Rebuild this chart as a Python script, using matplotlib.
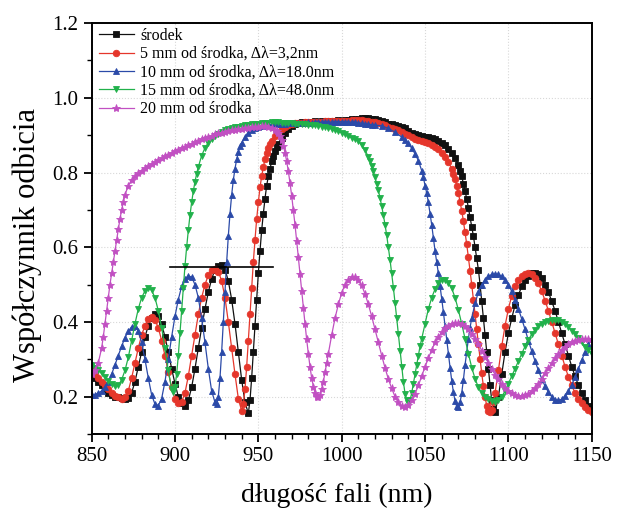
import numpy as np
import matplotlib
matplotlib.use("Agg")
import matplotlib.pyplot as plt
from matplotlib.ticker import MultipleLocator

# reflectance spectra, (wavelength nm, R)
srodek = [
    (850, 0.26), (852, 0.25), (854, 0.24), (856, 0.23), (858, 0.22), (860, 0.21), (862, 0.205),
    (864, 0.20), (866, 0.198), (868, 0.196), (870, 0.195), (872, 0.197), (874, 0.21), (876, 0.24),
    (878, 0.28), (880, 0.32), (882, 0.36), (884, 0.39), (886, 0.41), (888, 0.42), (890, 0.415),
    (892, 0.395), (894, 0.36), (896, 0.32), (898, 0.275), (900, 0.235), (902, 0.20), (904, 0.182),
    (906, 0.176), (908, 0.19), (910, 0.225), (912, 0.275), (914, 0.33), (916, 0.385), (918, 0.435),
    (920, 0.48), (922, 0.515), (924, 0.54), (926, 0.55), (928, 0.552), (930, 0.54), (932, 0.51),
    (934, 0.46), (936, 0.395), (938, 0.32), (940, 0.245), (942, 0.185), (944, 0.155), (945, 0.19),
    (946, 0.25), (947, 0.32), (948, 0.39), (949, 0.46), (950, 0.53), (951, 0.59), (952, 0.645),
    (953, 0.69), (954, 0.73), (955, 0.765), (956, 0.79), (957, 0.81), (958, 0.83), (959, 0.845),
    (960, 0.858), (961, 0.868), (962, 0.877), (964, 0.893), (966, 0.906), (968, 0.916), (970, 0.924),
    (972, 0.929), (974, 0.932), (976, 0.934), (978, 0.935), (980, 0.935), (982, 0.936), (984, 0.937),
    (986, 0.936), (988, 0.937), (990, 0.938), (992, 0.937), (994, 0.938), (996, 0.939), (998, 0.94),
    (1000, 0.939), (1002, 0.94), (1004, 0.941), (1006, 0.942), (1008, 0.943), (1010, 0.944),
    (1012, 0.945), (1014, 0.946), (1016, 0.945), (1018, 0.944), (1020, 0.942), (1022, 0.94),
    (1024, 0.937), (1026, 0.934), (1028, 0.931), (1030, 0.929), (1032, 0.926), (1034, 0.924),
    (1036, 0.922), (1038, 0.918), (1040, 0.912), (1042, 0.906), (1044, 0.902), (1046, 0.90),
    (1048, 0.898), (1050, 0.896), (1052, 0.894), (1054, 0.892), (1056, 0.889), (1058, 0.885),
    (1060, 0.88), (1062, 0.873), (1064, 0.864), (1066, 0.853), (1068, 0.84), (1070, 0.82),
    (1071, 0.805), (1072, 0.79), (1073, 0.77), (1074, 0.75), (1075, 0.73), (1076, 0.705),
    (1077, 0.68), (1078, 0.655), (1079, 0.63), (1080, 0.60), (1081, 0.57), (1082, 0.54),
    (1083, 0.50), (1084, 0.455), (1085, 0.41), (1086, 0.365), (1087, 0.32), (1088, 0.275),
    (1089, 0.23), (1090, 0.19), (1091, 0.168), (1092, 0.158), (1094, 0.20), (1096, 0.26),
    (1098, 0.32), (1100, 0.37), (1102, 0.41), (1104, 0.445), (1106, 0.472), (1108, 0.495),
    (1110, 0.512), (1112, 0.523), (1114, 0.53), (1116, 0.532), (1118, 0.528), (1120, 0.518),
    (1122, 0.50), (1124, 0.48), (1126, 0.455), (1128, 0.43), (1130, 0.40), (1132, 0.37),
    (1134, 0.34), (1136, 0.31), (1138, 0.28), (1140, 0.255), (1142, 0.23), (1144, 0.21),
    (1146, 0.19), (1148, 0.175), (1150, 0.165),
]

mm5 = [
    (850, 0.27), (852, 0.26), (854, 0.25), (856, 0.24), (858, 0.23), (860, 0.22), (862, 0.21),
    (864, 0.203), (866, 0.198), (868, 0.195), (870, 0.198), (872, 0.215), (874, 0.25), (876, 0.29),
    (878, 0.33), (880, 0.365), (882, 0.39), (884, 0.408), (886, 0.412), (888, 0.405), (890, 0.385),
    (892, 0.35), (894, 0.31), (896, 0.265), (898, 0.225), (900, 0.195), (902, 0.182), (904, 0.186),
    (906, 0.21), (908, 0.255), (910, 0.31), (912, 0.365), (914, 0.42), (916, 0.465), (918, 0.50),
    (920, 0.525), (922, 0.54), (924, 0.543), (926, 0.535), (928, 0.51), (930, 0.465), (932, 0.40),
    (934, 0.33), (936, 0.26), (938, 0.195), (940, 0.162), (941, 0.18), (942, 0.22), (943, 0.28),
    (944, 0.35), (945, 0.42), (946, 0.49), (947, 0.56), (948, 0.62), (949, 0.675), (950, 0.72),
    (951, 0.76), (952, 0.79), (953, 0.815), (954, 0.835), (955, 0.852), (956, 0.865), (957, 0.876),
    (958, 0.885), (960, 0.899), (962, 0.909), (964, 0.917), (966, 0.923), (968, 0.927), (970, 0.93),
    (972, 0.932), (974, 0.933), (976, 0.933), (978, 0.934), (980, 0.934), (982, 0.935), (984, 0.935),
    (986, 0.936), (988, 0.936), (990, 0.937), (992, 0.937), (994, 0.937), (996, 0.938), (998, 0.938),
    (1000, 0.938), (1002, 0.939), (1004, 0.939), (1006, 0.94), (1008, 0.94), (1010, 0.94),
    (1012, 0.94), (1014, 0.939), (1016, 0.938), (1018, 0.936), (1020, 0.934), (1022, 0.932),
    (1024, 0.929), (1026, 0.926), (1028, 0.923), (1030, 0.92), (1032, 0.917), (1034, 0.913),
    (1036, 0.909), (1038, 0.904), (1040, 0.90), (1042, 0.895), (1044, 0.891), (1046, 0.888),
    (1048, 0.885), (1050, 0.882), (1052, 0.878), (1054, 0.874), (1056, 0.869), (1058, 0.862),
    (1060, 0.853), (1062, 0.842), (1064, 0.828), (1066, 0.81), (1067, 0.797), (1068, 0.782),
    (1069, 0.765), (1070, 0.745), (1071, 0.722), (1072, 0.698), (1073, 0.67), (1074, 0.64),
    (1075, 0.608), (1076, 0.573), (1077, 0.537), (1078, 0.50), (1079, 0.46), (1080, 0.42),
    (1081, 0.38), (1082, 0.34), (1083, 0.30), (1084, 0.262), (1085, 0.228), (1086, 0.198),
    (1087, 0.176), (1088, 0.162), (1089, 0.158), (1090, 0.165), (1091, 0.185), (1092, 0.21),
    (1094, 0.27), (1096, 0.335), (1098, 0.39), (1100, 0.435), (1102, 0.47), (1104, 0.495),
    (1106, 0.512), (1108, 0.523), (1110, 0.529), (1112, 0.53), (1114, 0.527), (1116, 0.518),
    (1118, 0.503), (1120, 0.482), (1122, 0.457), (1124, 0.43), (1126, 0.40), (1128, 0.37),
    (1130, 0.34), (1132, 0.31), (1134, 0.28), (1136, 0.253), (1138, 0.23), (1140, 0.21),
    (1142, 0.195), (1144, 0.182), (1146, 0.172), (1148, 0.165), (1150, 0.16),
]

mm10 = [
    (850, 0.205), (852, 0.205), (854, 0.21), (856, 0.215), (858, 0.225), (860, 0.24), (862, 0.26),
    (864, 0.285), (866, 0.31), (868, 0.335), (870, 0.358), (872, 0.375), (874, 0.387), (876, 0.39),
    (878, 0.375), (880, 0.345), (882, 0.30), (884, 0.25), (886, 0.205), (888, 0.18), (890, 0.176),
    (892, 0.195), (894, 0.24), (896, 0.30), (898, 0.36), (900, 0.415), (902, 0.46), (904, 0.495),
    (906, 0.515), (908, 0.523), (910, 0.52), (912, 0.50), (914, 0.465), (916, 0.41), (918, 0.345),
    (920, 0.275), (922, 0.215), (924, 0.185), (925, 0.18), (926, 0.20), (927, 0.25), (928, 0.32),
    (929, 0.40), (930, 0.48), (931, 0.56), (932, 0.63), (933, 0.69), (934, 0.74), (935, 0.78),
    (936, 0.81), (937, 0.835), (938, 0.855), (939, 0.87), (940, 0.88), (942, 0.895), (944, 0.906),
    (946, 0.913), (948, 0.918), (950, 0.922), (952, 0.925), (954, 0.927), (956, 0.928), (958, 0.929),
    (960, 0.93), (962, 0.93), (964, 0.931), (966, 0.931), (968, 0.932), (970, 0.932), (972, 0.933),
    (974, 0.932), (976, 0.933), (978, 0.933), (980, 0.934), (982, 0.933), (984, 0.934), (986, 0.934),
    (988, 0.935), (990, 0.935), (992, 0.935), (994, 0.935), (996, 0.936), (998, 0.936), (1000, 0.936),
    (1002, 0.936), (1004, 0.935), (1006, 0.935), (1008, 0.934), (1010, 0.933), (1012, 0.932),
    (1014, 0.93), (1016, 0.929), (1018, 0.928), (1020, 0.927), (1024, 0.925), (1028, 0.918),
    (1032, 0.908), (1036, 0.895), (1038, 0.888), (1040, 0.878), (1042, 0.865), (1044, 0.85),
    (1046, 0.832), (1048, 0.805), (1049, 0.787), (1050, 0.765), (1051, 0.745), (1052, 0.72),
    (1053, 0.69), (1054, 0.66), (1055, 0.625), (1056, 0.59), (1057, 0.56), (1058, 0.53),
    (1059, 0.497), (1060, 0.462), (1061, 0.427), (1062, 0.39), (1063, 0.352), (1064, 0.315),
    (1065, 0.278), (1066, 0.243), (1067, 0.212), (1068, 0.188), (1069, 0.174), (1070, 0.172),
    (1071, 0.185), (1072, 0.21), (1073, 0.245), (1074, 0.285), (1075, 0.32), (1076, 0.355),
    (1077, 0.385), (1078, 0.41), (1080, 0.45), (1082, 0.48), (1084, 0.50), (1086, 0.513),
    (1088, 0.522), (1090, 0.527), (1092, 0.528), (1094, 0.527), (1096, 0.522), (1098, 0.513),
    (1100, 0.50), (1102, 0.482), (1104, 0.46), (1106, 0.435), (1108, 0.408), (1110, 0.38),
    (1112, 0.35), (1114, 0.322), (1116, 0.295), (1118, 0.27), (1120, 0.248), (1122, 0.228),
    (1124, 0.212), (1126, 0.20), (1128, 0.192), (1130, 0.19), (1132, 0.193), (1134, 0.202),
    (1136, 0.215), (1138, 0.232), (1140, 0.252), (1142, 0.275), (1144, 0.298), (1146, 0.32),
    (1148, 0.34), (1150, 0.355),
]

mm15 = [
    (850, 0.285), (852, 0.278), (854, 0.27), (856, 0.262), (858, 0.252), (860, 0.242), (862, 0.233),
    (864, 0.228), (866, 0.23), (868, 0.245), (870, 0.27), (872, 0.305), (874, 0.35), (876, 0.395),
    (878, 0.435), (880, 0.465), (882, 0.483), (884, 0.49), (886, 0.485), (888, 0.465), (890, 0.43),
    (892, 0.385), (894, 0.33), (896, 0.27), (898, 0.22), (899, 0.212), (900, 0.225), (901, 0.26),
    (902, 0.31), (903, 0.37), (904, 0.43), (905, 0.49), (906, 0.55), (907, 0.60), (908, 0.645),
    (909, 0.685), (910, 0.72), (911, 0.75), (912, 0.775), (913, 0.797), (914, 0.815), (916, 0.845),
    (918, 0.866), (920, 0.88), (922, 0.89), (924, 0.898), (926, 0.904), (928, 0.909), (930, 0.913),
    (932, 0.916), (934, 0.919), (936, 0.921), (938, 0.923), (940, 0.925), (942, 0.926), (944, 0.928),
    (946, 0.929), (948, 0.93), (950, 0.931), (952, 0.932), (954, 0.932), (956, 0.933), (958, 0.934),
    (960, 0.934), (962, 0.934), (964, 0.933), (966, 0.933), (968, 0.932), (970, 0.932), (972, 0.931),
    (974, 0.93), (976, 0.93), (978, 0.929), (980, 0.928), (982, 0.927), (984, 0.926), (986, 0.925),
    (988, 0.923), (990, 0.921), (992, 0.919), (994, 0.916), (996, 0.913), (998, 0.91), (1000, 0.906),
    (1002, 0.902), (1004, 0.897), (1006, 0.893), (1008, 0.889), (1010, 0.885), (1012, 0.873),
    (1014, 0.86), (1016, 0.842), (1017, 0.83), (1018, 0.818), (1019, 0.803), (1020, 0.787),
    (1021, 0.77), (1022, 0.752), (1023, 0.732), (1024, 0.71), (1025, 0.686), (1026, 0.66),
    (1027, 0.632), (1028, 0.60), (1029, 0.566), (1030, 0.53), (1031, 0.492), (1032, 0.452),
    (1033, 0.41), (1034, 0.367), (1035, 0.323), (1036, 0.28), (1037, 0.24), (1038, 0.208),
    (1039, 0.19), (1040, 0.183), (1041, 0.19), (1042, 0.21), (1043, 0.235), (1044, 0.26),
    (1045, 0.285), (1046, 0.31), (1047, 0.335), (1048, 0.355), (1050, 0.395), (1052, 0.435),
    (1054, 0.465), (1056, 0.488), (1058, 0.504), (1060, 0.513), (1062, 0.513), (1064, 0.505),
    (1066, 0.49), (1068, 0.465), (1070, 0.432), (1072, 0.395), (1074, 0.355), (1076, 0.315),
    (1078, 0.278), (1080, 0.248), (1082, 0.225), (1084, 0.21), (1086, 0.2), (1088, 0.193),
    (1090, 0.188), (1092, 0.186), (1094, 0.19), (1096, 0.2), (1098, 0.215), (1100, 0.235),
    (1102, 0.255), (1104, 0.275), (1106, 0.295), (1108, 0.315), (1110, 0.335), (1112, 0.352),
    (1114, 0.367), (1116, 0.378), (1118, 0.388), (1120, 0.395), (1122, 0.40), (1124, 0.403),
    (1126, 0.405), (1128, 0.405), (1130, 0.404), (1132, 0.40), (1134, 0.394), (1136, 0.386),
    (1138, 0.377), (1140, 0.367), (1142, 0.356), (1144, 0.345), (1146, 0.334), (1148, 0.324),
    (1150, 0.315),
]

mm20 = [
    (850, 0.26), (852, 0.27), (854, 0.29), (856, 0.33), (857, 0.36), (858, 0.395), (859, 0.43),
    (860, 0.465), (861, 0.50), (862, 0.53), (863, 0.56), (864, 0.59), (865, 0.62), (866, 0.648),
    (867, 0.675), (868, 0.70), (869, 0.72), (870, 0.74), (872, 0.765), (874, 0.78), (876, 0.79),
    (878, 0.798), (880, 0.805), (882, 0.812), (884, 0.818), (886, 0.823), (888, 0.828), (890, 0.833),
    (892, 0.838), (894, 0.843), (896, 0.848), (898, 0.853), (900, 0.857), (902, 0.861), (904, 0.865),
    (906, 0.869), (908, 0.873), (910, 0.877), (912, 0.881), (914, 0.885), (916, 0.889), (918, 0.893),
    (920, 0.896), (922, 0.899), (924, 0.902), (926, 0.905), (928, 0.907), (930, 0.909), (932, 0.911),
    (934, 0.913), (936, 0.914), (938, 0.916), (940, 0.917), (942, 0.918), (944, 0.92), (946, 0.921),
    (948, 0.922), (950, 0.923), (952, 0.924), (954, 0.924), (956, 0.923), (958, 0.92), (960, 0.915),
    (961, 0.911), (962, 0.905), (963, 0.897), (964, 0.886), (965, 0.872), (966, 0.853), (967, 0.83),
    (968, 0.803), (969, 0.772), (970, 0.738), (971, 0.70), (972, 0.66), (973, 0.617), (974, 0.573),
    (975, 0.528), (976, 0.483), (977, 0.438), (978, 0.395), (979, 0.353), (980, 0.315), (981, 0.28),
    (982, 0.25), (983, 0.227), (984, 0.21), (985, 0.20), (986, 0.198), (987, 0.205), (988, 0.22),
    (989, 0.24), (990, 0.265), (991, 0.29), (992, 0.315), (994, 0.365), (996, 0.41), (998, 0.447),
    (1000, 0.478), (1002, 0.50), (1004, 0.513), (1006, 0.52), (1008, 0.52), (1010, 0.513),
    (1012, 0.498), (1014, 0.475), (1016, 0.447), (1018, 0.415), (1020, 0.38), (1022, 0.345),
    (1024, 0.31), (1026, 0.277), (1028, 0.247), (1030, 0.222), (1032, 0.20), (1034, 0.185),
    (1036, 0.176), (1038, 0.173), (1040, 0.177), (1042, 0.19), (1044, 0.208), (1046, 0.23),
    (1048, 0.255), (1050, 0.28), (1052, 0.303), (1054, 0.325), (1056, 0.345), (1058, 0.36),
    (1060, 0.373), (1062, 0.383), (1064, 0.39), (1066, 0.395), (1068, 0.398), (1070, 0.398),
    (1072, 0.395), (1074, 0.389), (1076, 0.38), (1078, 0.369), (1080, 0.355), (1082, 0.34),
    (1084, 0.323), (1086, 0.306), (1088, 0.29), (1090, 0.274), (1092, 0.259), (1094, 0.246),
    (1096, 0.234), (1098, 0.224), (1100, 0.216), (1102, 0.21), (1104, 0.205), (1106, 0.203),
    (1108, 0.202), (1110, 0.204), (1112, 0.208), (1114, 0.215), (1116, 0.224), (1118, 0.235),
    (1120, 0.248), (1122, 0.262), (1124, 0.276), (1126, 0.29), (1128, 0.303), (1130, 0.315),
    (1132, 0.325), (1134, 0.334), (1136, 0.341), (1138, 0.346), (1140, 0.35), (1142, 0.352),
    (1144, 0.353), (1146, 0.354), (1148, 0.354), (1150, 0.354),
]

labels = [
    "środek",
    "5 mm od środka, Δλ=3,2nm",
    "10 mm od środka, Δλ=18.0nm",
    "15 mm od środka, Δλ=48.0nm",
    "20 mm od środka",
]
colors = ["#111111", "#e5362b", "#2b4aa8", "#21b14b", "#c150c2"]
markers = ["s", "o", "^", "v", "*"]

# horizontal marker line at the second fringe maximum
ref_level = 0.548
ref_span = (897, 959)

plt.rcParams["font.family"] = ["Liberation Serif", "DejaVu Serif"]

fig = plt.figure(figsize=(6.19, 5.13), dpi=100)
ax = fig.add_axes([0.148, 0.154, 0.808, 0.801])

for data, lab, c, m in zip([srodek, mm5, mm10, mm15, mm20], labels, colors, markers):
    wl, r = np.array(data).T
    ms = 6.0 if m == "*" else 4.7
    ax.plot(wl, r, color=c, lw=0.9, marker=m, ms=ms, mec=c, mfc=c, mew=0.6, label=lab)

ax.plot(ref_span, [ref_level, ref_level], color="black", lw=1.2)

ax.set_xlim(850, 1150)
ax.set_ylim(0.1, 1.2)
ax.xaxis.set_major_locator(MultipleLocator(50))
ax.xaxis.set_minor_locator(MultipleLocator(10))
ax.yaxis.set_major_locator(MultipleLocator(0.2))
ax.yaxis.set_minor_locator(MultipleLocator(0.1))
ax.set_yticks([0.2, 0.4, 0.6, 0.8, 1.0, 1.2])
ax.set_yticklabels(["0.2", "0.4", "0.6", "0.8", "1.0", "1.2"])
ax.tick_params(which="major", direction="out", length=6, width=1.3, labelsize=15)
ax.tick_params(which="minor", direction="out", length=3.5, width=1.0)
ax.grid(True, which="major", color="#d8d8d8", ls=":", lw=0.8)
for s in ax.spines.values():
    s.set_linewidth(1.4)

ax.set_xlabel("długość fali (nm)", fontsize=20)
ax.xaxis.set_label_coords(0.49, -0.12)
ax.set_ylabel("Współczynnik odbicia", fontsize=22)
ax.yaxis.set_label_coords(-0.10, 0.46)

ax.legend(loc="upper left", bbox_to_anchor=(-0.005, 1.012), frameon=False, fontsize=11.5,
          handlelength=2.2, handletextpad=0.4, labelspacing=0.15, borderaxespad=0.2)

fig.savefig("out.png", dpi=100)
